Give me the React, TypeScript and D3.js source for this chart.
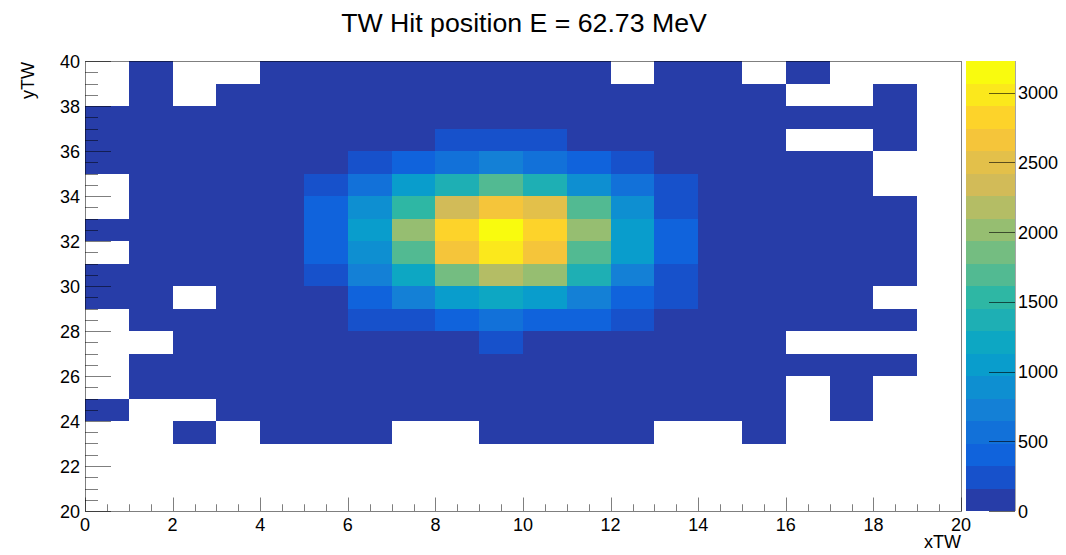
import React from 'react';
import * as d3 from 'd3';

// Hit counts per (xTW, yTW) bin. Rows run from yTW = 39 (top) down to yTW = 20,
// columns from xTW = 0 to xTW = 19. Empty bins hold 0 and are left blank.
const counts: number[][] = [
  [0, 6, 0, 0, 9, 14, 18, 21, 24, 22, 19, 15, 0, 8, 5, 0, 3, 0, 0, 0],
  [0, 9, 0, 12, 17, 25, 33, 40, 44, 46, 41, 35, 27, 19, 13, 8, 0, 0, 4, 0],
  [7, 11, 16, 23, 34, 48, 66, 82, 95, 99, 93, 78, 60, 43, 29, 18, 11, 6, 3, 0],
  [10, 15, 24, 38, 58, 86, 118, 150, 205, 228, 196, 146, 104, 68, 42, 25, 0, 0, 5, 0],
  [12, 20, 33, 55, 88, 140, 255, 420, 585, 700, 560, 395, 250, 138, 80, 45, 22, 10, 0, 0],
  [0, 24, 42, 72, 120, 198, 540, 1050, 1380, 1690, 1360, 890, 520, 210, 118, 62, 30, 13, 0, 0],
  [0, 27, 48, 82, 140, 360, 900, 1530, 2330, 2660, 2500, 1700, 870, 300, 150, 75, 36, 16, 6, 0],
  [14, 29, 52, 88, 152, 440, 1090, 2010, 2850, 3228, 2810, 1990, 1070, 400, 155, 80, 38, 17, 7, 0],
  [0, 28, 50, 85, 148, 420, 920, 1700, 2680, 2990, 2640, 1680, 1040, 390, 150, 78, 37, 16, 6, 0],
  [11, 25, 45, 76, 130, 300, 740, 1200, 1850, 2180, 2030, 1370, 720, 280, 135, 68, 32, 14, 5, 0],
  [8, 19, 0, 58, 98, 158, 430, 760, 1060, 1220, 1050, 740, 410, 190, 100, 52, 24, 10, 0, 0],
  [0, 14, 26, 44, 74, 120, 235, 310, 455, 570, 470, 400, 240, 140, 76, 38, 18, 8, 3, 0],
  [0, 0, 17, 29, 48, 75, 108, 140, 155, 200, 150, 120, 90, 62, 38, 20, 0, 0, 0, 0],
  [0, 7, 12, 20, 32, 48, 66, 82, 95, 102, 92, 76, 58, 40, 25, 14, 7, 4, 2, 0],
  [0, 4, 7, 12, 19, 28, 38, 47, 54, 57, 52, 43, 33, 23, 14, 8, 0, 2, 0, 0],
  [1, 0, 0, 6, 10, 15, 20, 25, 28, 30, 27, 22, 17, 12, 7, 4, 0, 1, 0, 0],
  [0, 0, 2, 0, 4, 6, 8, 0, 0, 11, 10, 8, 6, 0, 0, 1, 0, 0, 0, 0],
  [0, 0, 0, 0, 0, 0, 0, 0, 0, 0, 0, 0, 0, 0, 0, 0, 0, 0, 0, 0],
  [0, 0, 0, 0, 0, 0, 0, 0, 0, 0, 0, 0, 0, 0, 0, 0, 0, 0, 0, 0],
  [0, 0, 0, 0, 0, 0, 0, 0, 0, 0, 0, 0, 0, 0, 0, 0, 0, 0, 0, 0],
];

const xRange: [number, number] = [0, 20];
const yRange: [number, number] = [20, 40];
const xTickLabels = [0, 2, 4, 6, 8, 10, 12, 14, 16, 18, 20];
const yTickLabels = [20, 22, 24, 26, 28, 30, 32, 34, 36, 38, 40];
const zTickLabels = [0, 500, 1000, 1500, 2000, 2500, 3000];

// "Bird" colour palette stops
const birdStops = [0, 0.125, 0.25, 0.375, 0.5, 0.625, 0.75, 0.875, 1];
const birdRed = [0.2082, 0.0592, 0.078, 0.0232, 0.1802, 0.5301, 0.8186, 0.9956, 0.9764];
const birdGreen = [0.1664, 0.3599, 0.5041, 0.6419, 0.7178, 0.7492, 0.7328, 0.7862, 0.9832];
const birdBlue = [0.5293, 0.8684, 0.8385, 0.7914, 0.6425, 0.4662, 0.3499, 0.1968, 0.0539];

const titleText = 'TW Hit position E = 62.73 MeV';
const xTitle = 'xTW';
const yTitle = 'yTW';

const W = 1066;
const H = 555;
const FRAME = { left: 85, right: 961, top: 61, bottom: 511 };
const PAL = { left: 966, right: 1015 };
const N_CONTOURS = 20;
const FONT = "'Liberation Sans', Arial, Helvetica, sans-serif";

export default function App() {
  const x = d3.scaleLinear().domain(xRange).range([FRAME.left, FRAME.right]);
  const y = d3.scaleLinear().domain(yRange).range([FRAME.bottom, FRAME.top]);
  const zMax = d3.max(counts.flat()) ?? 1;
  const z = d3.scaleLinear().domain([0, zMax]).range([FRAME.bottom, FRAME.top]);

  const bird = d3
    .scaleLinear<string>()
    .domain(birdStops)
    .range(birdStops.map((_, i) => d3.rgb(birdRed[i] * 255, birdGreen[i] * 255, birdBlue[i] * 255).toString()))
    .interpolate(d3.interpolateRgb);
  const bandColors = d3.range(N_CONTOURS).map((i) => bird(Math.floor(((i + 0.99) * 255) / N_CONTOURS) / 254));
  const color = d3.scaleQuantize<string>().domain([0, zMax]).range(bandColors);
  const bandWidth = zMax / N_CONTOURS;

  const cells: { bx: number; by: number; v: number }[] = [];
  counts.forEach((row, r) => {
    row.forEach((v, c) => {
      if (v > 0) cells.push({ bx: xRange[0] + c, by: yRange[1] - 1 - r, v });
    });
  });

  const xMinor = d3.range(xRange[0], xRange[1] + 0.001, 0.5).filter((t) => t % 2 !== 0);
  const yMinor = d3.range(yRange[0], yRange[1] + 0.001, 0.5).filter((t) => t % 2 !== 0);
  const xMajorLen = 13.5;
  const yMajorLen = 26;
  const tickStroke = { stroke: '#000', strokeOpacity: 0.5, strokeWidth: 1 };
  const px = (v: number) => Math.round(v) + 0.5;

  return (
    <svg
      width={W}
      height={H}
      viewBox={`0 0 ${W} ${H}`}
      style={{ position: 'absolute', left: 0, top: 0, background: '#fff', fontFamily: FONT }}
    >
      <rect x={0} y={0} width={W} height={H} fill="#fff" />

      {/* histogram bins */}
      <g shapeRendering="crispEdges">
        {cells.map((d, i) => (
          <rect
            key={i}
            x={x(d.bx)}
            y={y(d.by + 1)}
            width={x(d.bx + 1) - x(d.bx)}
            height={y(d.by) - y(d.by + 1)}
            fill={color(d.v)}
          />
        ))}
      </g>

      {/* frame */}
      <rect
        x={px(FRAME.left)}
        y={px(FRAME.top)}
        width={Math.round(FRAME.right) - Math.round(FRAME.left)}
        height={Math.round(FRAME.bottom) - Math.round(FRAME.top)}
        fill="none"
        stroke="#000"
        strokeOpacity={0.5}
      />

      {/* x axis ticks and labels */}
      <g>
        {xTickLabels.map((t) => (
          <line key={`xM${t}`} x1={px(x(t))} x2={px(x(t))} y1={FRAME.bottom} y2={FRAME.bottom - xMajorLen} {...tickStroke} />
        ))}
        {xMinor.map((t) => (
          <line key={`xm${t}`} x1={px(x(t))} x2={px(x(t))} y1={FRAME.bottom} y2={FRAME.bottom - xMajorLen / 2} {...tickStroke} />
        ))}
        {xTickLabels.map((t) => (
          <text key={`xl${t}`} x={x(t)} y={FRAME.bottom + 19.5} textAnchor="middle" fontSize={18} fill="#000">
            {t}
          </text>
        ))}
        <text x={FRAME.right} y={548} textAnchor="end" fontSize={18} fill="#000">
          {xTitle}
        </text>
      </g>

      {/* y axis ticks and labels */}
      <g>
        {yTickLabels.map((t) => (
          <line key={`yM${t}`} x1={FRAME.left} x2={FRAME.left + yMajorLen} y1={px(y(t))} y2={px(y(t))} {...tickStroke} />
        ))}
        {yMinor.map((t) => (
          <line key={`ym${t}`} x1={FRAME.left} x2={FRAME.left + yMajorLen / 2} y1={px(y(t))} y2={px(y(t))} {...tickStroke} />
        ))}
        {yTickLabels.map((t) => (
          <text key={`yl${t}`} x={80} y={y(t) + 6.5} textAnchor="end" fontSize={18} fill="#000">
            {t}
          </text>
        ))}
        <text
          transform={`translate(33.5, ${FRAME.top + 1}) rotate(-90)`}
          textAnchor="end"
          fontSize={18}
          fill="#000"
        >
          {yTitle}
        </text>
      </g>

      {/* colour palette */}
      <g shapeRendering="crispEdges">
        {bandColors.map((c, i) => (
          <rect
            key={`pal${i}`}
            x={PAL.left}
            y={z((i + 1) * bandWidth)}
            width={PAL.right - PAL.left}
            height={z(i * bandWidth) - z((i + 1) * bandWidth)}
            fill={c}
          />
        ))}
      </g>
      <line x1={px(PAL.right)} x2={px(PAL.right)} y1={FRAME.top} y2={FRAME.bottom} stroke="#000" strokeOpacity={0.35} />
      {zTickLabels.map((t) => (
        <g key={`z${t}`}>
          <line x1={PAL.right} x2={PAL.right - 26} y1={px(z(t))} y2={px(z(t))} stroke="#000" strokeOpacity={0.6} />
          <text x={1018} y={z(t) + 6.5} fontSize={18} fill="#000">
            {t}
          </text>
        </g>
      ))}

      {/* title */}
      <text x={524} y={31.5} textAnchor="middle" fontSize={26.7} fill="#000">
        {titleText}
      </text>
    </svg>
  );
}
